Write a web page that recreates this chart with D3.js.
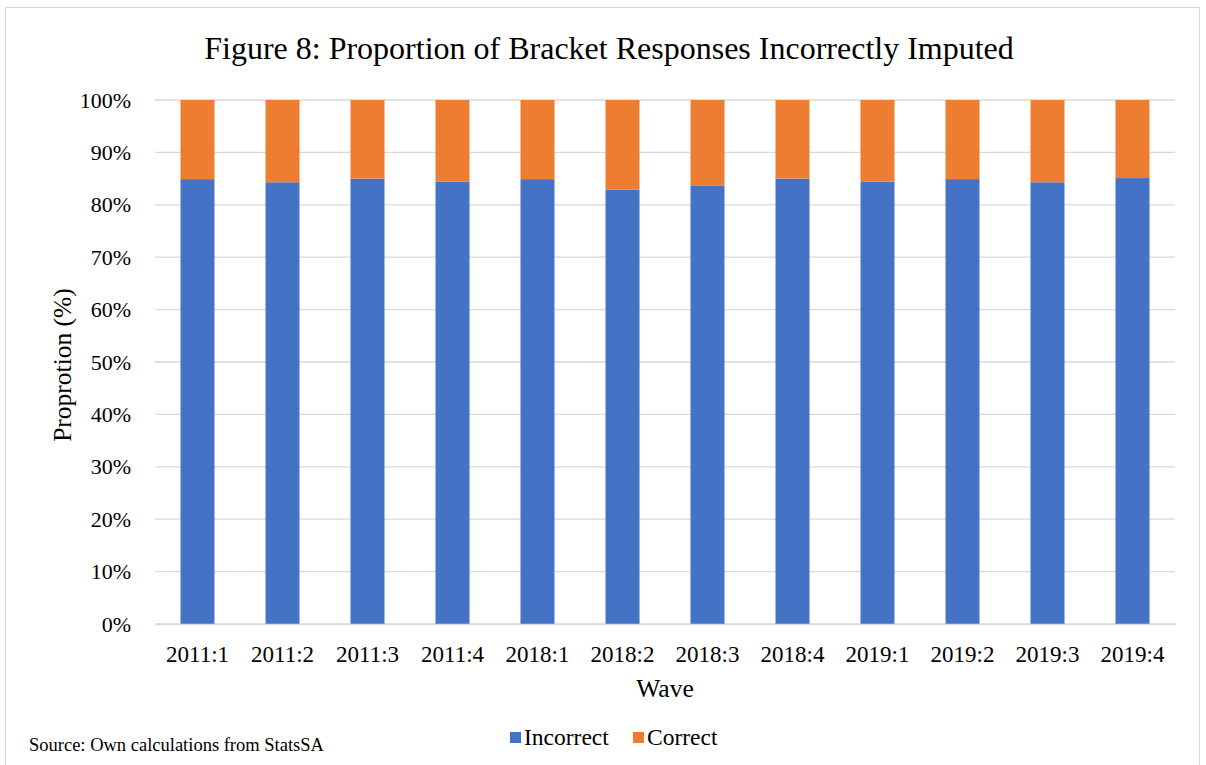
<!DOCTYPE html>
<html>
<head>
<meta charset="utf-8">
<script src="https://cdn.jsdelivr.net/npm/d3@7"></script>
<style>
  html, body { margin: 0; padding: 0; background: #fff; }
  svg { display: block; }
  svg text { font-family: "Liberation Serif", "Times New Roman", serif; fill: #000; }
</style>
</head>
<body>
<svg id="chart" width="1206" height="765"></svg>
<script>
// Survey waves and the share of bracket responses imputed incorrectly (%)
const waves = ["2011:1", "2011:2", "2011:3", "2011:4", "2018:1", "2018:2",
               "2018:3", "2018:4", "2019:1", "2019:2", "2019:3", "2019:4"];
const incorrect = [84.9, 84.3, 85.0, 84.4, 84.9, 82.9, 83.7, 85.0, 84.4, 84.9, 84.3, 85.1];
const correct = incorrect.map(v => 100 - v);
const yTicks = [0, 10, 20, 30, 40, 50, 60, 70, 80, 90, 100];
const seriesNames = ["Incorrect", "Correct"];
const colors = { Incorrect: "#4472C4", Correct: "#ED7D31" };

const rows = waves.map((w, i) => ({ wave: w, Incorrect: incorrect[i], Correct: correct[i] }));

const svg = d3.select("#chart");
const plot = { left: 155, right: 1175, top: 100, bottom: 624 };
const serif = "Liberation Serif";

// outer chart frame
svg.append("rect")
  .attr("x", 5.5).attr("y", 7.5).attr("width", 1194).attr("height", 770)
  .attr("fill", "none").attr("stroke", "#d9d9d9").attr("stroke-width", 1);

const x = d3.scaleBand().domain(waves).range([plot.left, plot.right]).paddingInner(0.6).paddingOuter(0.3);
const y = d3.scaleLinear().domain([0, 100]).range([plot.bottom, plot.top]);

// horizontal gridlines
svg.append("g").selectAll("line").data(yTicks).join("line")
  .attr("x1", plot.left).attr("x2", plot.right)
  .attr("y1", d => y(d)).attr("y2", d => y(d))
  .attr("stroke", "#d9d9d9").attr("stroke-width", 1.3);

// stacked bars
const stack = d3.stack().keys(seriesNames)(rows);
svg.append("g").selectAll("g").data(stack).join("g")
  .attr("fill", d => colors[d.key])
  .selectAll("rect").data(d => d).join("rect")
  .attr("x", d => x(d.data.wave))
  .attr("width", x.bandwidth())
  .attr("y", d => y(d[1]))
  .attr("height", d => y(d[0]) - y(d[1]));

// y axis labels
const yAxis = svg.append("g")
  .attr("transform", `translate(${plot.left},0)`)
  .call(d3.axisLeft(y).tickValues(yTicks).tickFormat(d => d + "%").tickSize(0).tickPadding(24));
yAxis.attr("font-family", serif);
yAxis.select(".domain").remove();
yAxis.selectAll("text").attr("font-family", serif).attr("font-size", 22).attr("fill", "#000");

// x axis line and labels
const xAxis = svg.append("g")
  .attr("transform", `translate(0,${plot.bottom})`)
  .call(d3.axisBottom(x).tickSize(0).tickPadding(22));
xAxis.attr("font-family", serif);
xAxis.select(".domain").attr("stroke", "#d9d9d9").attr("stroke-width", 1.3);
xAxis.selectAll("text").attr("font-family", serif).attr("font-size", 23).attr("fill", "#000");

// title
svg.append("text")
  .attr("x", 609).attr("y", 59).attr("text-anchor", "middle")
  .attr("font-family", serif).attr("font-size", 32)
  .text("Figure 8: Proportion of Bracket Responses Incorrectly Imputed");

// axis titles
svg.append("text")
  .attr("transform", "translate(71,365) rotate(-90)")
  .attr("text-anchor", "middle").attr("font-family", serif).attr("font-size", 25.5)
  .text("Proprotion (%)");
svg.append("text")
  .attr("x", 665).attr("y", 697).attr("text-anchor", "middle")
  .attr("font-family", serif).attr("font-size", 25.5)
  .text("Wave");

// legend
const legend = svg.append("g");
const legendItems = [{ key: "Incorrect", x: 510 }, { key: "Correct", x: 633 }];
legendItems.forEach(it => {
  legend.append("rect").attr("x", it.x).attr("y", 732).attr("width", 11).attr("height", 11)
    .attr("fill", colors[it.key]);
  legend.append("text").attr("x", it.x + 14).attr("y", 745)
    .attr("font-family", serif).attr("font-size", 23.5).text(it.key);
});

// source note
svg.append("text")
  .attr("x", 29).attr("y", 751).attr("font-family", serif).attr("font-size", 18.5)
  .text("Source: Own calculations from StatsSA");
</script>
</body>
</html>
